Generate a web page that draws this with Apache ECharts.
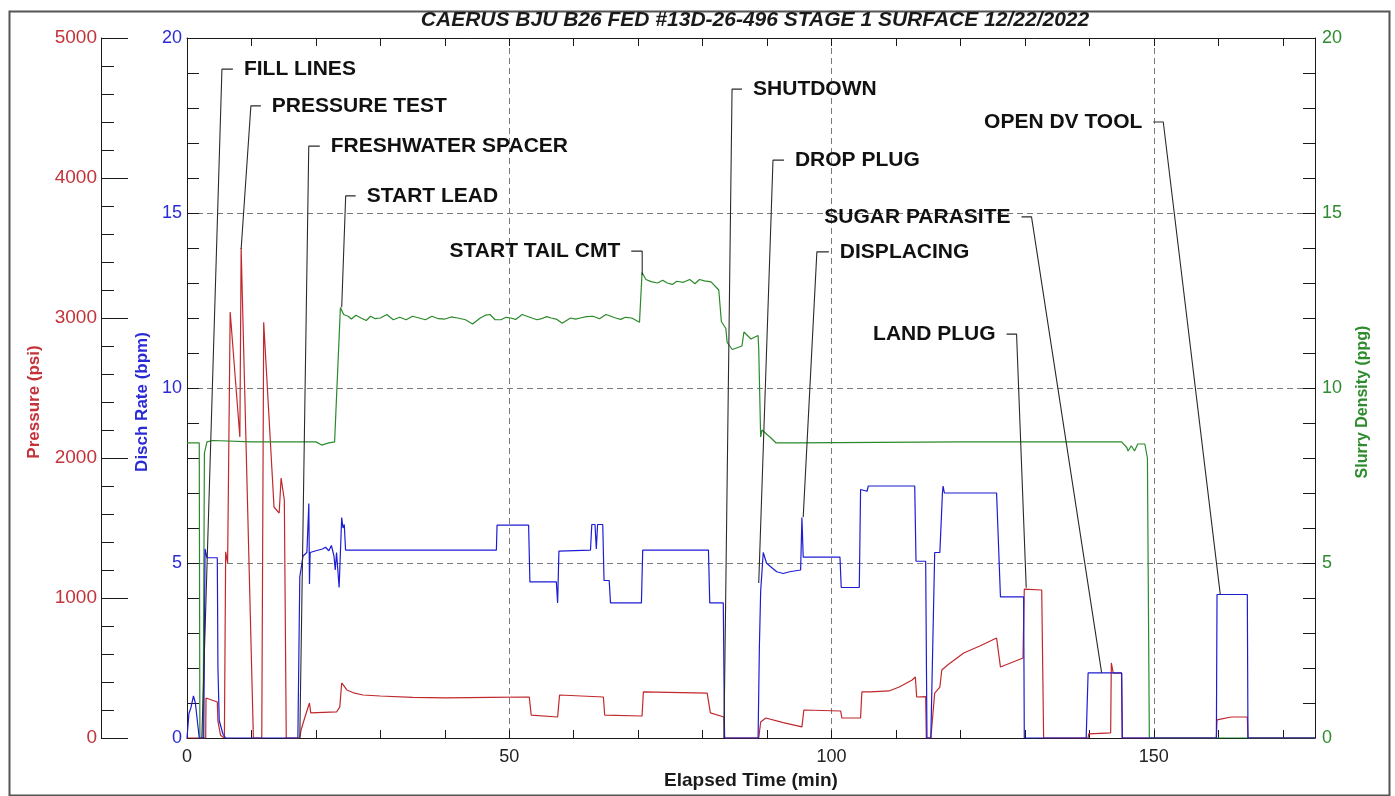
<!DOCTYPE html>
<html>
<head>
<meta charset="utf-8">
<script src="https://cdn.jsdelivr.net/npm/echarts@6/dist/echarts.min.js"></script>
<style>
html,body{margin:0;padding:0;background:#fff;}
#chart{width:1395px;height:796px;}
</style>
</head>
<body>
<div id="chart"></div>
<script>
// ---------------- data ----------------
const titleText = 'CAERUS BJU B26 FED #13D-26-496 STAGE 1 SURFACE 12/22/2022';

// Pressure (psi) vs elapsed time (min)
const pressureTime = [0, 2.9, 2.95, 4.7, 4.8, 5.2, 5.8, 5.9, 6.0, 6.3, 6.7, 8.2, 8.4, 10.3, 11.6, 11.9, 13.5, 14.3, 14.6, 15.1, 15.4,
  17.5, 17.7, 18.3, 19.0, 19.2, 23.2, 23.7, 24.0, 24.8, 26.0, 27.3, 30.0, 35.0, 40.3, 47.0, 53.1, 53.4, 57.5, 57.8, 64.6, 64.8,
  70.6, 70.8, 80.7, 81.2, 83.3, 83.4, 88.7, 89.0, 89.8, 92.5, 95.4, 95.7, 101.4, 101.6, 104.5, 104.7, 106.0, 108.9, 110.5,
  112.5, 113.0, 113.2, 114.6, 114.7, 115.4, 116.0, 116.8, 117.1, 118.0, 120.5, 123.0, 125.6, 126.2, 129.7, 129.9, 132.6, 132.9,
  139.8, 139.9, 143.3, 143.4, 143.7, 145.0, 145.1, 159.7, 159.8, 162.0, 164.5, 164.6, 175];
const pressureVal = [0, 0, 286, 257, 120, 20, 0, 0, 1330, 1250, 3043, 2150, 3500, 0, 0, 2970, 1650, 1607, 1857, 1700, 0,
  0, 57, 150, 250, 180, 186, 221, 393, 343, 320, 307, 300, 290, 286, 290, 293, 164, 150, 307, 293, 164,
  157, 329, 321, 179, 150, 0, 0, 114, 143, 110, 79, 200, 193, 143, 143, 329, 329, 336, 364,
  414, 436, 293, 296, 0, 0, 321, 364, 486, 521, 607, 657, 714, 507, 571, 1064, 1057, 0,
  0, 30, 36, 536, 464, 464, 0, 0, 129, 150, 150, 0, 0];

// Discharge rate (bpm)
const rateTime = [0, 0.3, 0.6, 1.0, 1.3, 1.9, 2.6, 2.8, 3.1, 4.7, 4.8, 5.0, 5.6, 6.0, 17.2, 17.5, 18.0, 18.6, 18.9, 19.0, 19.1,
  20.0, 21.0, 21.5, 22.0, 22.4, 22.8, 23.0, 23.2, 23.6, 24.0, 24.2, 24.4, 24.6, 48.0, 48.1, 53.0, 53.2, 57.3, 57.5, 57.7,
  62.6, 62.8, 63.3, 63.5, 63.7, 64.5, 64.7, 65.5, 65.7, 70.5, 70.7, 80.9, 81.1, 83.2, 83.4, 88.6, 88.8, 89.0, 89.4, 89.9,
  90.5, 91.5, 92.5, 93.5, 95.2, 95.4, 95.6, 101.3, 101.5, 104.3, 104.5, 105.5, 105.7, 112.9, 113.1, 114.6, 114.8, 115.4,
  116.0, 116.8, 117.2, 117.3, 117.5, 125.6, 126.2, 129.8, 129.9, 139.5, 139.8, 145.0, 145.1, 159.7, 159.8, 164.5, 164.6, 175];
const rateVal = [0, 0.7, 0.86, 1.2, 1.0, 0, 0, 5.4, 5.15, 5.15, 2.0, 0.5, 0.1, 0, 0, 4.6, 5.2, 5.3, 6.7, 4.4, 5.3,
  5.35, 5.4, 5.45, 5.35, 5.5, 5.2, 4.8, 5.3, 4.3, 6.3, 6.0, 6.1, 5.37, 5.37, 6.08, 6.08, 4.46, 4.46, 3.86, 5.34,
  5.37, 6.1, 6.1, 5.4, 6.1, 6.1, 4.5, 4.5, 3.86, 3.86, 5.37, 5.37, 3.86, 3.86, 0, 0, 2.6, 4.2, 5.3, 5.0,
  4.9, 4.75, 4.7, 4.75, 4.8, 6.3, 5.17, 5.17, 4.3, 4.3, 7.1, 7.05, 7.2, 7.2, 5.05, 5.05, 0, 0,
  5.3, 5.3, 7.0, 7.2, 7.0, 7.0, 4.03, 4.03, 0, 0, 1.86, 1.86, 0, 0, 4.1, 4.1, 0, 0];

// Slurry density (ppg)
const densityTime = [0, 1.9, 2.0, 2.5, 2.7, 3.1, 4.0, 10.0, 16.0, 20.0, 20.9, 22.0, 22.9, 23.8, 24.3, 25.0, 25.5, 26.2, 27.0, 27.8, 28.5, 29.2, 30.0,
  31.0, 32.0, 33.0, 34.0, 35.0, 36.0, 37.0, 38.0, 39.0, 40.0, 41.0, 42.0, 43.2, 44.3, 45.5, 46.3, 47.0, 47.8, 48.7, 49.5, 50.2, 51.0, 52.0, 53.5, 54.3, 55.0, 55.8, 56.5, 57.4, 58.2, 59.5, 60.3, 61.0, 62.0, 63.0, 64.0, 65.0,
  66.5, 67.3, 68.0, 69.0, 70.2, 70.6, 71.2, 72.0, 73.0, 73.8, 74.5, 75.3, 76.0, 77.0, 78.0, 78.8, 79.5, 80.3, 81.3, 82.5, 82.9, 83.6, 83.8, 84.6, 86.1, 86.4, 87.5, 88.6,
  88.7, 89.0, 89.2, 90.6, 91.4, 94.5, 94.6, 120.0, 145.0, 145.8, 146.0, 146.5, 147.0, 147.5, 148.6, 149.0, 149.3, 175];
const densityVal = [8.43, 8.43, 0, 0, 8.14, 8.46, 8.5, 8.46, 8.46, 8.46, 8.37, 8.43, 8.46, 12.3, 12.1, 12.05, 11.97, 12.08, 12.0, 11.93, 12.05, 11.98, 12.0,
  12.1, 11.95, 12.02, 11.95, 12.05, 12.0, 11.95, 12.05, 11.98, 11.97, 12.03, 12.0, 11.95, 11.83, 12.0, 12.08, 12.1, 11.95, 11.95, 12.02, 12.0, 11.96, 12.1, 12.0, 11.95, 11.98, 12.04, 12.0, 11.96, 11.85, 12.0, 11.97, 12.0, 12.04, 12.05, 11.98, 12.1,
  12.0, 11.96, 12.02, 12.0, 11.88, 13.3, 13.1, 13.04, 13.0, 13.08, 13.0, 12.96, 13.05, 13.02, 13.1, 12.98, 13.1, 13.06, 13.03, 12.8, 11.9, 11.7, 11.3, 11.1, 11.2, 11.6, 11.4, 11.5,
  11.1, 8.6, 8.8, 8.57, 8.43, 8.43, 8.46, 8.46, 8.46, 8.3, 8.2, 8.35, 8.2, 8.4, 8.4, 8.0, 0, 0];

// Event annotations (time in min, level on the 0-20 rate/density scale)
const annoText = ['FILL LINES', 'PRESSURE TEST', 'FRESHWATER SPACER', 'START LEAD', 'START TAIL CMT', 'SHUTDOWN',
  'DROP PLUG', 'DISPLACING', 'SUGAR PARASITE', 'LAND PLUG', 'OPEN DV TOOL'];
const annoSide = ['right', 'right', 'right', 'right', 'left', 'right', 'right', 'right', 'left', 'left', 'left'];
const annoLevel = [19.11, 18.06, 16.91, 15.49, 13.91, 18.54, 16.51, 13.89, 14.89, 11.54, 17.6];
const annoDashEnd = [7.12, 11.46, 20.6, 26.17, 68.92, 86.11, 92.61, 99.58, 129.47, 127.15, 149.92];
const annoCorner = [5.42, 9.91, 18.89, 24.62, 70.62, 84.56, 90.91, 97.72, 131.02, 128.70, 151.46];
const annoTargetT = [2.3, 8.4, 17.5, 24.0, 70.62, 83.3, 88.7, 95.6, 141.9, 130.2, 160.3];
const annoTargetV = [0, 13.97, 0, 12.31, 13.23, 0, 4.43, 6.31, 1.86, 4.29, 4.11];

// ---------------- chart ----------------
const FONT = '"Liberation Sans", Arial, sans-serif';
const RED = '#c4323a', RED_LINE = '#c0282d';
const BLUE = '#2b2bd6', BLUE_LINE = '#1c1cd4';
const GREEN = '#2e8b2e', GREEN_LINE = '#2a8a2a';
const zip = (a, b) => a.map((v, i) => [v, b[i]]);

const series = [
  { type: 'line', name: 'Pressure', xAxisIndex: 0, yAxisIndex: 1, data: zip(pressureTime, pressureVal),
    showSymbol: false, symbol: 'none', lineStyle: { color: RED_LINE, width: 1.2 }, itemStyle: { color: RED_LINE }, z: 3 },
  { type: 'line', name: 'Disch Rate', xAxisIndex: 0, yAxisIndex: 0, data: zip(rateTime, rateVal),
    showSymbol: false, symbol: 'none', lineStyle: { color: BLUE_LINE, width: 1.2 }, itemStyle: { color: BLUE_LINE }, z: 4 },
  { type: 'line', name: 'Slurry Density', xAxisIndex: 0, yAxisIndex: 2, data: zip(densityTime, densityVal),
    showSymbol: false, symbol: 'none', lineStyle: { color: GREEN_LINE, width: 1.2 }, itemStyle: { color: GREEN_LINE }, z: 3 }
];
annoText.forEach((t, i) => {
  series.push({
    type: 'line', xAxisIndex: 0, yAxisIndex: 0, silent: true, symbol: 'none', showSymbol: false, z: 5,
    data: [[annoDashEnd[i], annoLevel[i]], [annoCorner[i], annoLevel[i]], [annoTargetT[i], annoTargetV[i]]],
    lineStyle: { color: '#2a2a2a', width: 1.1 }
  });
});
series.push({
  type: 'scatter', xAxisIndex: 0, yAxisIndex: 0, silent: true, symbolSize: 0, z: 6,
  itemStyle: { color: '#111111', opacity: 1 },
  labelLayout: { hideOverlap: false },
  data: annoText.map((t, i) => ({
    value: [annoDashEnd[i], annoLevel[i]], name: t,
    label: { show: true, position: annoSide[i], distance: 11, formatter: t, opacity: 1,
      fontFamily: FONT, fontWeight: 'bold', fontSize: 21, color: '#111111', textBorderWidth: 0 }
  }))
});

const tickStyle = { color: '#1a1a1a', width: 1 };
const plain = v => String(v);
const option = {
  animation: false,
  backgroundColor: '#fff',
  textStyle: { fontFamily: FONT },
  title: { text: titleText, left: 750, top: 5, textAlign: 'center',
    textStyle: { fontFamily: FONT, fontSize: 21, fontWeight: 'bold', fontStyle: 'italic', color: '#1a1a1a' } },
  grid: { left: 187, right: 80, top: 38, bottom: 58, containLabel: false },
  xAxis: [
    { type: 'value', min: 0, max: 175, interval: 10, position: 'bottom',
      axisLine: { show: true, onZero: false, lineStyle: tickStyle },
      axisTick: { show: true, inside: true, length: 8, lineStyle: tickStyle },
      axisLabel: { formatter: v => (v % 50 === 0 ? String(v) : ''), fontSize: 18, color: '#222', margin: 10, fontFamily: FONT },
      splitLine: { show: false },
      name: 'Elapsed Time (min)', nameLocation: 'middle', nameGap: 26,
      nameTextStyle: { fontFamily: FONT, fontWeight: 'bold', fontSize: 19, color: '#1a1a1a' } },
    { type: 'value', min: 0, max: 175, interval: 10, position: 'top',
      axisLine: { show: true, onZero: false, lineStyle: tickStyle },
      axisTick: { show: true, inside: true, length: 8, lineStyle: tickStyle },
      axisLabel: { show: false }, splitLine: { show: false } },
    { type: 'value', min: 0, max: 175, interval: 50, position: 'bottom',
      axisLine: { show: false }, axisTick: { show: false }, axisLabel: { show: false },
      splitLine: { show: true, lineStyle: { type: [6, 4], color: '#7a7a7a', width: 1 } } }
  ],
  yAxis: [
    { type: 'value', min: 0, max: 20, interval: 5, position: 'left',
      axisLine: { show: true, onZero: false, lineStyle: tickStyle },
      axisTick: { show: true, inside: true, length: 12, lineStyle: tickStyle },
      minorTick: { show: true, splitNumber: 5, length: 12, lineStyle: tickStyle },
      axisLabel: { fontSize: 18, color: BLUE, margin: 5, fontFamily: FONT, formatter: plain },
      splitLine: { show: true, lineStyle: { type: [6, 4], color: '#7a7a7a', width: 1 } },
      name: 'Disch Rate (bpm)', nameLocation: 'middle', nameGap: 34, nameRotate: 90,
      nameTextStyle: { fontFamily: FONT, fontSize: 17, fontWeight: 'bold', color: BLUE, padding: [0, 28, 0, 0] } },
    { type: 'value', min: 0, max: 5000, interval: 1000, position: 'left', offset: 86,
      axisLine: { show: true, onZero: false, lineStyle: tickStyle },
      axisTick: { show: true, inside: true, length: 27, lineStyle: tickStyle },
      minorTick: { show: true, splitNumber: 5, length: 13, lineStyle: tickStyle },
      axisLabel: { fontSize: 19, color: RED, margin: 4, fontFamily: FONT, formatter: plain },
      splitLine: { show: false },
      name: 'Pressure (psi)', nameLocation: 'middle', nameGap: 58, nameRotate: 90,
      nameTextStyle: { fontFamily: FONT, fontSize: 17, fontWeight: 'bold', color: RED, padding: [0, 28, 0, 0] } },
    { type: 'value', min: 0, max: 20, interval: 5, position: 'right',
      axisLine: { show: true, onZero: false, lineStyle: tickStyle },
      axisTick: { show: true, inside: true, length: 12, lineStyle: tickStyle },
      minorTick: { show: true, splitNumber: 5, length: 12, lineStyle: tickStyle },
      axisLabel: { fontSize: 18, color: GREEN, margin: 7, fontFamily: FONT, formatter: plain },
      splitLine: { show: false },
      name: 'Slurry Density (ppg)', nameLocation: 'middle', nameGap: 40, nameRotate: 90,
      nameTextStyle: { fontFamily: FONT, fontSize: 16, fontWeight: 'bold', color: GREEN, padding: [0, 28, 0, 0] } }
  ],
  graphic: [
    { type: 'rect', left: 7, top: 9, silent: true, z: -1,
      shape: { width: 1380, height: 784 },
      style: { fill: 'none', stroke: '#555', lineWidth: 2 } }
  ],
  series: series
};

const chart = echarts.init(document.getElementById('chart'), null, { renderer: 'canvas' });
chart.setOption(option);
</script>
</body>
</html>
